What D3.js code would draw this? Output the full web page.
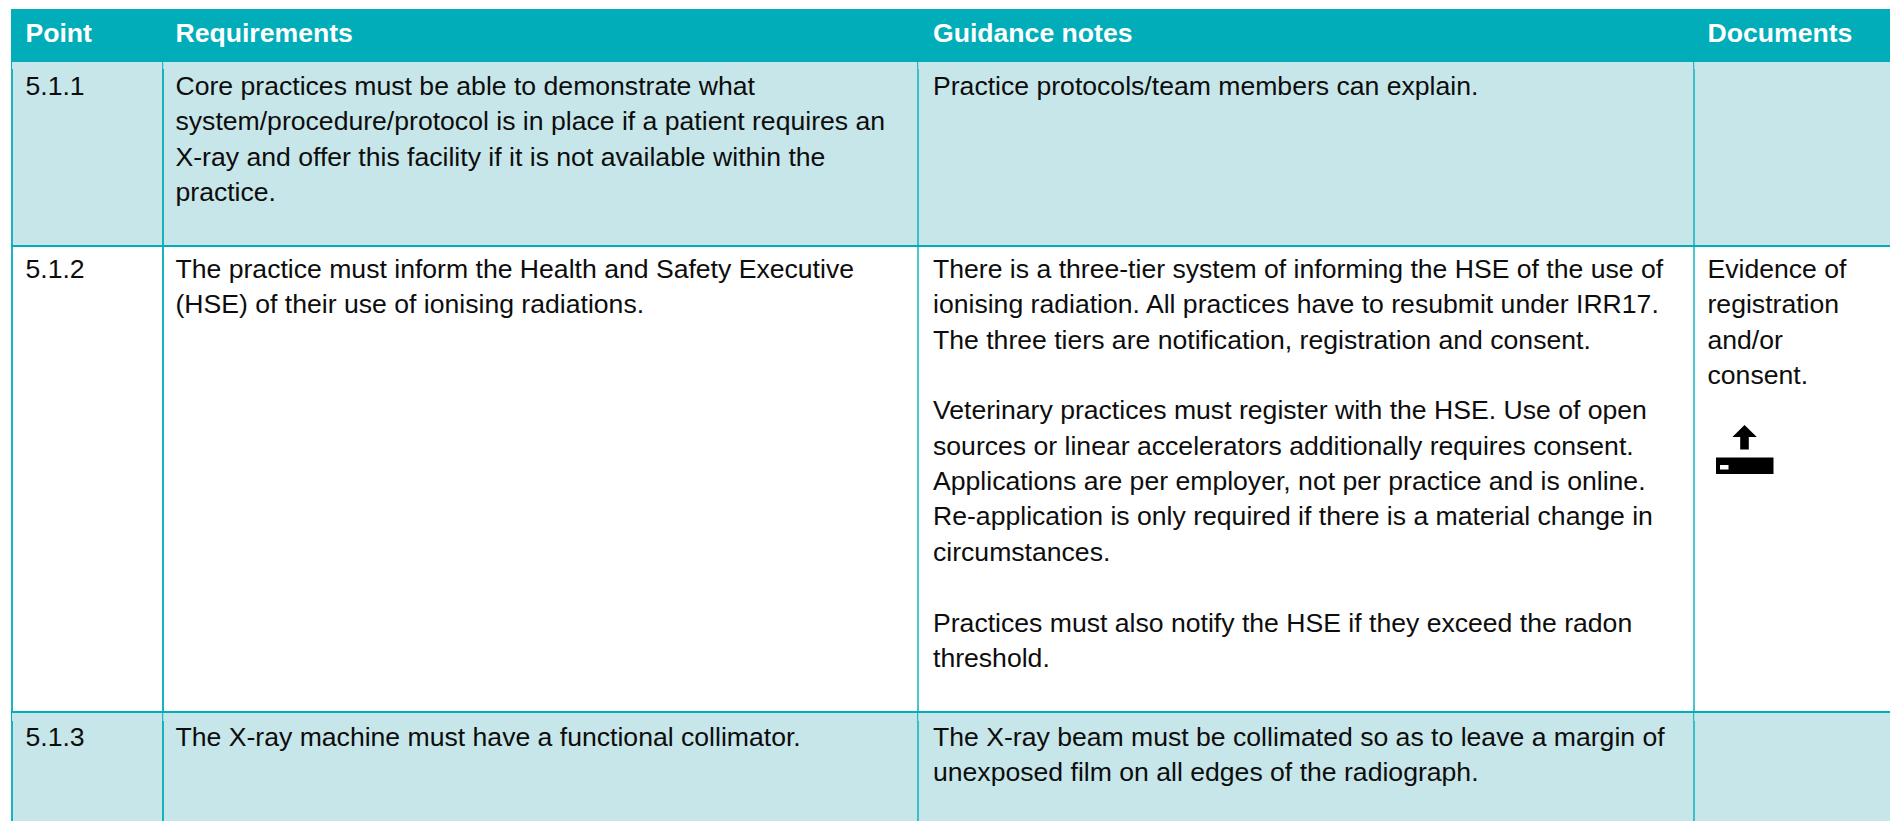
<!DOCTYPE html>
<html><head><meta charset="utf-8">
<script src="https://cdn.jsdelivr.net/npm/d3@7"></script>
<style>html,body{margin:0;padding:0;background:#fff;overflow:hidden}svg{display:block}text{font-family:"Liberation Sans",Arial,sans-serif;white-space:pre}</style>
</head><body><svg id="c" width="1890" height="821"></svg>
<script>
const headers=["Point","Requirements","Guidance notes","Documents"];
const points=["5.1.1","5.1.2","5.1.3"];
const requirements=[
["Core practices must be able to demonstrate what","system/procedure/protocol is in place if a patient requires an","X-ray and offer this facility if it is not available within the","practice."],
["The practice must inform the Health and Safety Executive","(HSE) of their use of ionising radiations."],
["The X-ray machine must have a functional collimator."]];
const guidance=[
["Practice protocols/team members can explain."],
["There is a three-tier system of informing the HSE of the use of","ionising radiation. All practices have to resubmit under IRR17.","The three tiers are notification, registration and consent.","","Veterinary practices must register with the HSE. Use of open","sources or linear accelerators additionally requires consent.","Applications are per employer, not per practice and is online.","Re-application is only required if there is a material change in","circumstances.","","Practices must also notify the HSE if they exceed the radon","threshold."],
["The X-ray beam must be collimated so as to leave a margin of","unexposed film on all edges of the radiograph."]];
const documentsCol=[[],["Evidence of","registration","and/or","consent."],[]];

const colEdges=[12,163,918,1694,1890];
const colWidths=[1.8,1.8,1.4,1.4];
const rowEdges=[9,62,246,712,821];
const textX=[25.5,175.5,933,1707.5];
const baselines=[95,278,745.5];
const teal="#00adb9",pale="#c7e6e9",ink="#0d0d0d";
const lh=35.35,fs=26.6;
const svg=d3.select("#c");

svg.append("rect").attr("x",11).attr("y",rowEdges[0]).attr("width",1879).attr("height",rowEdges[1]-rowEdges[0]).attr("fill",teal);
points.forEach((p,r)=>{
  const y0=rowEdges[r+1],y1=rowEdges[r+2];
  if(r!==1) svg.append("rect").attr("x",12).attr("y",y0).attr("width",1878).attr("height",y1-y0).attr("fill",pale);
});
const line=(x1,y1,x2,y2,w)=>svg.append("line").attr("x1",x1).attr("y1",y1).attr("x2",x2).attr("y2",y2).attr("stroke",teal).attr("stroke-width",w);
colEdges.slice(0,4).forEach((x,c)=>{
  points.forEach((p,r)=>{
    const y0=rowEdges[r+1],y1=rowEdges[r+2];
    if(r===1){ line(x,y0,x,y1,colWidths[c]); return; }
    const notch=r===0?7:9;
    line(c===0?11.5:x-0.3,y0,c===0?11.5:x-0.3,y0+notch,1);
    line(x,y0+notch,x,y1,colWidths[c]);
  });
});
[rowEdges[2],rowEdges[3]].forEach(y=>line(11,y,1890,y,2));

svg.selectAll("text.h").data(headers).join("text").attr("class","h").attr("x",(d,i)=>textX[i]).attr("y",42.3).attr("fill","#fff").attr("font-weight","bold").attr("font-size",fs).text(d=>d);
points.forEach((p,r)=>{
  [[p],requirements[r],guidance[r],documentsCol[r]].forEach((lines,c)=>{
    svg.append("g").selectAll("text").data(lines).join("text").attr("x",textX[c]).attr("y",(d,i)=>baselines[r]+i*lh).attr("font-size",fs).attr("fill",ink).text(d=>d);
  });
});
// upload icon
svg.append("path").attr("d","M1744.5 425L1756.8 437H1748.8V449.5H1740.2V437H1732.4Z").attr("fill","#000");
svg.append("rect").attr("x",1716).attr("y",457.5).attr("width",57.5).attr("height",16.5).attr("fill","#000");
svg.append("rect").attr("x",1720).attr("y",465).attr("width",8.5).attr("height",4.5).attr("fill","#fff");
</script></body></html>
